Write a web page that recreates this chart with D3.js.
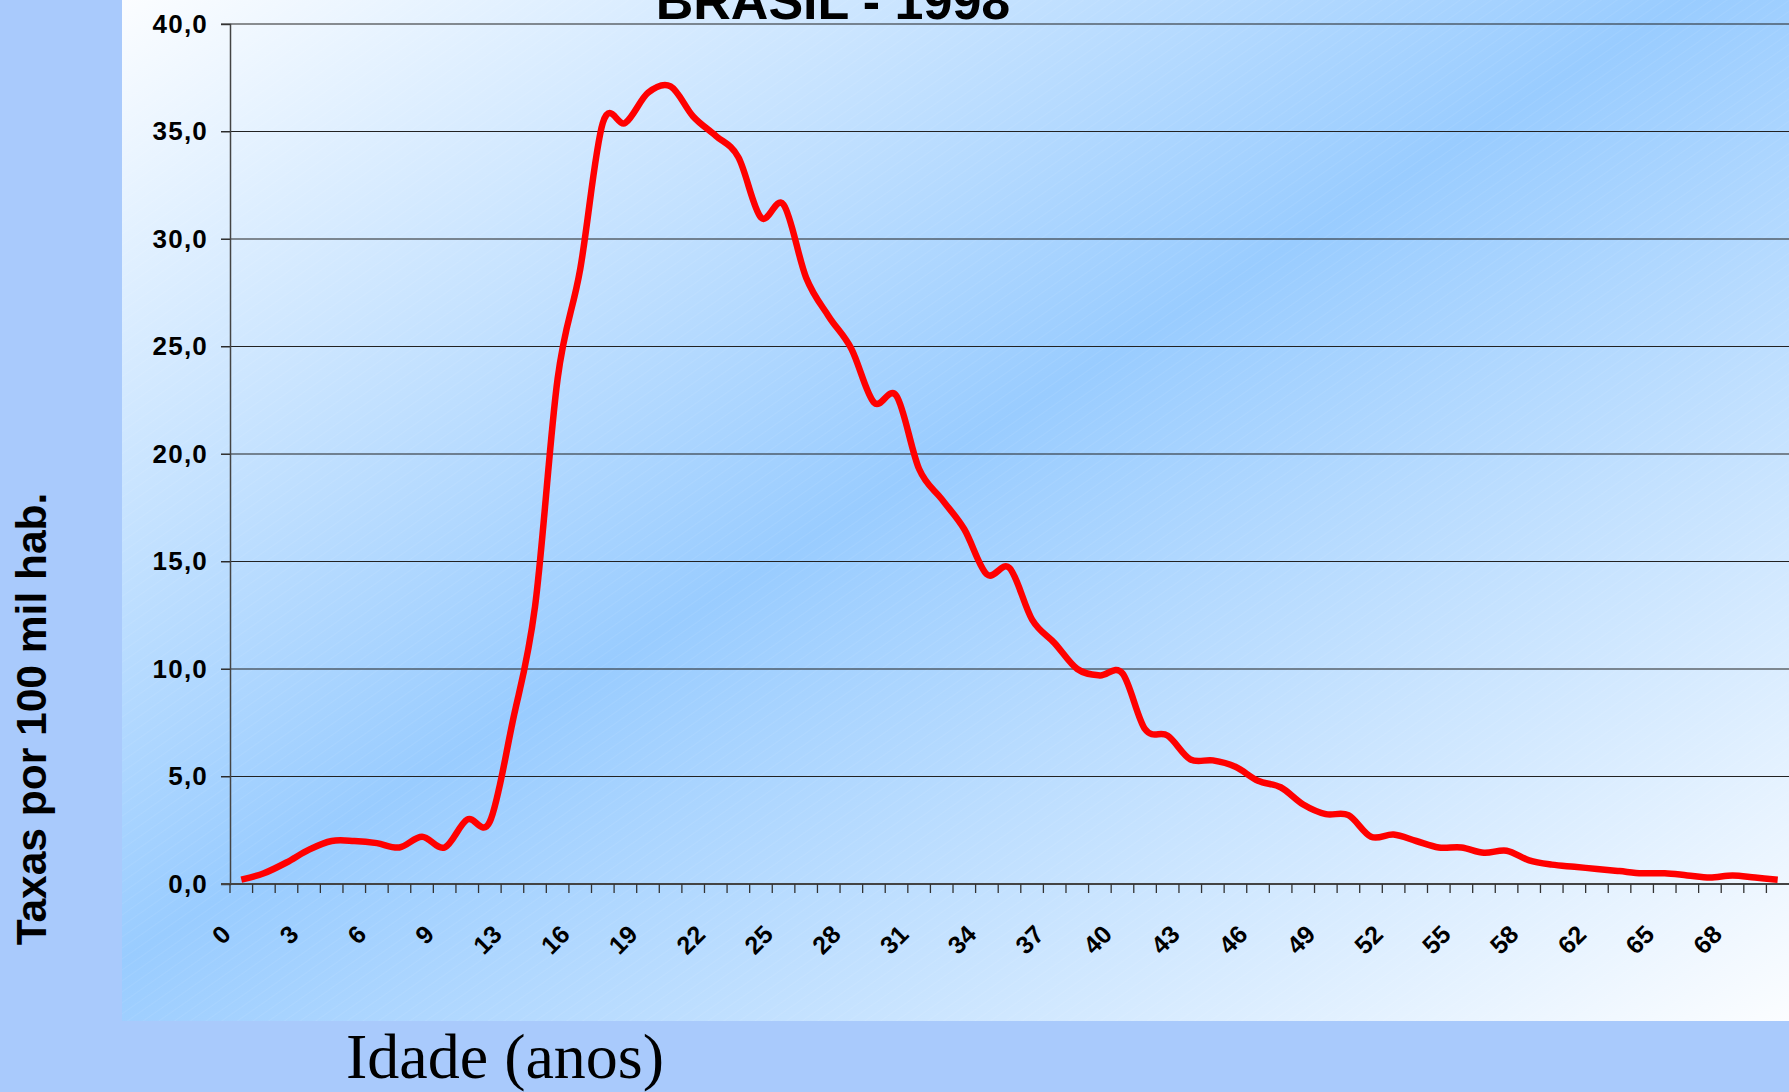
<!DOCTYPE html>
<html>
<head>
<meta charset="utf-8">
<script src="https://cdn.jsdelivr.net/npm/d3@7"></script>
<style>
  body { margin: 0; background: #a9cafc; }
  svg { display: block; }
</style>
</head>
<body>
<div id="main"></div>
<script>
// faixas de idade (categorias do eixo x)
const idades = [0,1,2,3,4,5,6,7,8,9,
  11,12,13,14,15,16,17,18,19,20,21,22,23,24,25,26,27,28,29,30,
  31,32,33,34,35,36,37,38,39,40,41,42,43,44,45,46,47,48,49,50,
  51,52,53,54,55,56,57,58,59,
  61,62,63,64,65,66,67,68,69,70];

// taxas por 100 mil hab.
const taxas = [0.2, 0.5, 1.0, 1.6, 2.0, 2.0, 1.9, 1.7, 2.2, 1.7,
  3.0, 2.9, 7.5, 12.9, 23.5, 28.6, 35.4, 35.4, 36.8, 37.1,
  35.7, 34.8, 33.8, 31.0, 31.6, 28.2, 26.4, 24.9, 22.4, 22.7,
  19.3, 17.9, 16.5, 14.4, 14.7, 12.3, 11.2, 10.0, 9.7, 9.8,
  7.2, 6.9, 5.8, 5.75, 5.45, 4.8, 4.5, 3.7, 3.25, 3.2,
  2.2, 2.3, 2.0, 1.7, 1.7, 1.45, 1.55, 1.1, 0.9, 0.8,
  0.7, 0.6, 0.5, 0.5, 0.4, 0.3, 0.4, 0.3, 0.2];

const yTicks = [0, 5, 10, 15, 20, 25, 30, 35, 40];

const titulo = "BRASIL - 1998";
const tituloY = "Taxas por 100 mil hab.";
const tituloX = "Idade (anos)";

const W = 1789, H = 1092;
const c = {left: 230, right: 1789, top: 24, bottom: 884};

const svg = d3.select("#main").append("svg")
  .attr("width", W).attr("height", H);

const defs = svg.append("defs");
const grad = defs.append("linearGradient")
  .attr("id", "fundo")
  .attr("x1", 0).attr("y1", 0).attr("x2", 1).attr("y2", 1);
grad.append("stop").attr("offset", 0).attr("stop-color", "#fbfdff");
grad.append("stop").attr("offset", 0.47).attr("stop-color", "#99ccff");
grad.append("stop").attr("offset", 1).attr("stop-color", "#fbfdff");

const hatch = defs.append("pattern")
  .attr("id", "hachura")
  .attr("patternUnits", "userSpaceOnUse")
  .attr("width", 10).attr("height", 9)
  .attr("patternTransform", "rotate(-35)");
hatch.append("line")
  .attr("x1", 0).attr("y1", 0).attr("x2", 10).attr("y2", 0)
  .attr("stroke", "#ffffff").attr("stroke-opacity", 0.13).attr("stroke-width", 1);

svg.append("rect").attr("width", W).attr("height", H).attr("fill", "#a9cafc");
svg.append("rect").attr("x", 122).attr("y", 0).attr("width", W - 122).attr("height", 1021)
  .attr("fill", "url(#fundo)");
svg.append("rect").attr("x", 122).attr("y", 0).attr("width", W - 122).attr("height", 1021)
  .attr("fill", "url(#hachura)");

const x = d3.scaleBand().domain(idades).range([c.left, c.right]).padding(0);
const y = d3.scaleLinear().domain([0, 40]).range([c.bottom, c.top]);
const bw = x.bandwidth();

const fmt = d => d3.format(".1f")(d).replace(".", ",");

// grade horizontal
svg.append("g")
  .selectAll("line")
  .data(yTicks)
  .join("line")
  .attr("x1", c.left - 9).attr("x2", c.right)
  .attr("y1", d => y(d)).attr("y2", d => y(d))
  .attr("stroke", "#222").attr("stroke-width", 1.2);

// eixo y
const yAxis = d3.axisLeft(y).tickValues(yTicks).tickFormat(fmt).tickSize(9).tickPadding(13);
svg.append("g")
  .attr("transform", `translate(${c.left},0)`)
  .call(yAxis)
  .call(g => g.select(".domain").attr("stroke", "#444").attr("stroke-width", 1.5))
  .call(g => g.selectAll(".tick line").attr("stroke", "#333"))
  .call(g => g.selectAll(".tick text")
      .attr("font-family", "Liberation Sans, Arial, sans-serif")
      .attr("font-weight", "bold")
      .attr("font-size", 26)
      .attr("letter-spacing", 1.2)
      .attr("fill", "#000"));

// eixo x (marcas nos limites das categorias)
const gx = svg.append("g");
gx.append("line")
  .attr("x1", c.left - 9).attr("x2", c.right)
  .attr("y1", c.bottom).attr("y2", c.bottom)
  .attr("stroke", "#444").attr("stroke-width", 2);
gx.selectAll("line.tk")
  .data(idades)
  .join("line")
  .attr("class", "tk")
  .attr("x1", d => x(d)).attr("x2", d => x(d))
  .attr("y1", c.bottom).attr("y2", c.bottom + 9)
  .attr("stroke", "#333").attr("stroke-width", 1.3);
gx.selectAll("text")
  .data(idades.filter((d, i) => i % 3 === 0))
  .join("text")
  .attr("transform", d => `translate(${x(d) + bw / 2 - 9},${c.bottom + 52}) rotate(-45)`)
  .attr("text-anchor", "end")
  .attr("font-family", "Liberation Sans, Arial, sans-serif")
  .attr("font-weight", "bold")
  .attr("font-size", 25)
  .attr("fill", "#000")
  .text(d => d);

// linha suavizada
const linha = d3.line()
  .x((d, i) => x(idades[i]) + bw / 2)
  .y(d => y(d))
  .curve(d3.curveCardinal.tension(0));

svg.append("path")
  .datum(taxas)
  .attr("d", linha)
  .attr("fill", "none")
  .attr("stroke", "#ff0000")
  .attr("stroke-width", 6.5)
  .attr("stroke-linejoin", "round");

// títulos
svg.append("text")
  .attr("x", 833).attr("y", 19)
  .attr("text-anchor", "middle")
  .attr("font-family", "Liberation Sans, Arial, sans-serif")
  .attr("font-weight", "bold")
  .attr("font-size", 52)
  .text(titulo);

svg.append("text")
  .attr("transform", "translate(46,719) rotate(-90)")
  .attr("text-anchor", "middle")
  .attr("font-family", "Liberation Sans, Arial, sans-serif")
  .attr("font-weight", "bold")
  .attr("font-size", 42.5)
  .text(tituloY);

svg.append("text")
  .attr("x", 346).attr("y", 1078)
  .attr("font-family", "Liberation Serif, Times New Roman, serif")
  .attr("font-size", 64)
  .text(tituloX);
</script>
</body>
</html>
